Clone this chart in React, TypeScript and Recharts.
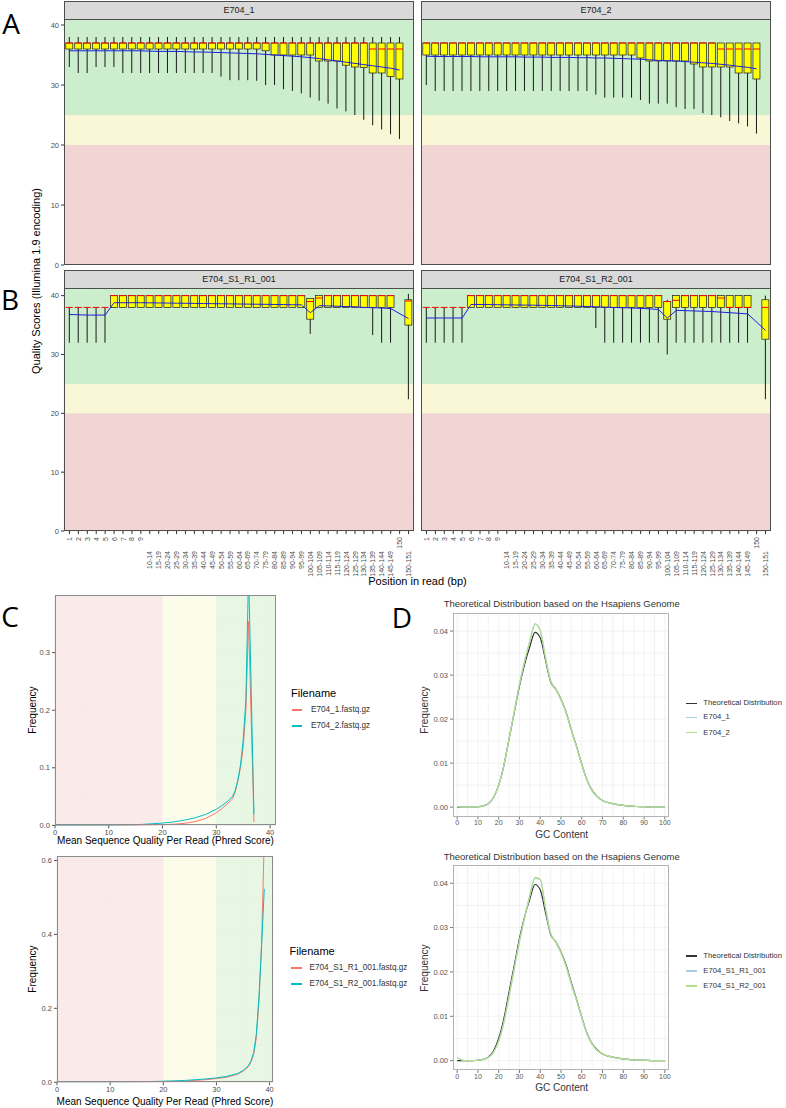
import React from 'react';
import { ComposedChart, LineChart, Line, Bar, XAxis, YAxis, CartesianGrid, ReferenceArea } from 'recharts';

const FONT = '"Liberation Sans", Arial, Helvetica, sans-serif';

// ---------------- Panels A / B : per-position quality boxplots ----------------
const POSITIONS = ['1','2','3','4','5','6','7','8','9','10-14','15-19','20-24','25-29','30-34','35-39','40-44','45-49','50-54','55-59','60-64','65-69','70-74','75-79','80-84','85-89','90-94','95-99','100-104','105-109','110-114','115-119','120-124','125-129','130-134','135-139','140-144','145-149','150','150-151'];

const E704_1_LOW = [33,32,32,33,33,33,32,32,32,32,32,32,32,32,32,32,32,31.4,30.8,30.8,30.8,30.7,30,30,29.3,29,28.6,27.9,27.4,26.9,26.1,25.6,25,24.2,23.3,22.6,21.8,21,null];
const E704_1_Q1 = [36,36,36,36,36,36,36,36,36,36,36,36,36,36,36,36,36,36,36,36,36,36,35.7,35,35,35,35,35,34,34,34,33.3,33,32.9,32,32,31.4,31,null];
const E704_1_MED = [37,37,37,37,37,37,37,37,37,37,37,37,37,37,37,37,37,37,37,37,37,37,37,37,37,37,37,37,37,37,37,37,37,37,36,36,36,36,null];
const E704_1_Q3 = [37,37,37,37,37,37,37,37,37,37,37,37,37,37,37,37,37,37,37,37,37,37,37,37,37,37,37,37,37,37,37,37,37,37,37,37,37,37,null];
const E704_1_HIGH = [38,38,38,38,38,38,38,38,38,38,38,38,38,38,38,38,38,38,38,38,38,38,38,38,38,38,38,38,38,38,38,38,38,38,38,38,38,38,null];
const E704_1_MEAN = [35.7,35.7,35.7,35.7,35.7,35.7,35.7,35.7,35.7,35.65,35.6,35.6,35.6,35.55,35.5,35.5,35.45,35.4,35.35,35.3,35.25,35.2,35.1,35.0,34.9,34.8,34.7,34.55,34.4,34.2,34.0,33.8,33.6,33.4,33.2,33.0,32.8,32.5,null];

const E704_2_LOW = [30,29,29,29,29,29,29,29,29,29,29,29,29,29,29,29,29,29,29,28.4,27.9,27.9,27.9,27.9,27.5,26.9,26.9,26.9,26.3,26,26,25.3,25,24.6,24,23.6,23.1,21.9,null];
const E704_2_Q1 = [35,35,35,35,35,35,35,35,35,35,35,35,35,35,35,35,35,35,35,35,35,35,35,35,34.5,34,34,34,34,34,33.5,33,33,33,33,32,32,31,null];
const E704_2_MED = [37,37,37,37,37,37,37,37,37,37,37,37,37,37,37,37,37,37,37,37,37,37,37,37,37,37,37,37,37,37,37,37,37,36,36,36,36,36,null];
const E704_2_Q3 = [37,37,37,37,37,37,37,37,37,37,37,37,37,37,37,37,37,37,37,37,37,37,37,37,37,37,37,37,37,37,37,37,37,37,37,37,37,37,null];
const E704_2_HIGH = [37,37,37,37,37,37,37,37,37,37,37,37,37,37,37,37,37,37,37,37,37,37,37,37,37,37,37,37,37,37,37,37,37,37,37,37,37,37,null];
const E704_2_MEAN = [34.8,34.75,34.75,34.75,34.75,34.75,34.7,34.7,34.7,34.7,34.7,34.65,34.65,34.65,34.6,34.6,34.6,34.55,34.55,34.5,34.5,34.45,34.4,34.35,34.3,34.2,34.1,34.05,34.0,33.9,33.8,33.7,33.6,33.45,33.3,33.1,32.95,32.7,null];

const R1_LOW = [32,32,32,32,32,38,38,38,38,38,38,38,38,38,38,38,38,38,38,38,38,38,38,38,38,38,38,33.5,38,38,38,38,38,38,33.3,32,32,null,22.4];
const R1_Q1 = [38,38,38,38,38,38,38,38,38,38,38,38,38,38,38,38,38,38,38,38,38,38,38,38,38,38,38,36,38,38,38,38,38,38,38,38,38,null,35];
const R1_MED = [38,38,38,38,38,40,40,40,40,40,40,40,40,40,40,40,40,40,40,40,40,40,40,40,40,40,40,39,39.6,40,40,40,40,40,40,40,40,null,39.1];
const R1_Q3 = [38,38,38,38,38,40,40,40,40,40,40,40,40,40,40,40,40,40,40,40,40,40,40,40,40,40,40,39.5,40,40,40,40,40,40,40,40,40,null,39.3];
const R1_HIGH = [38,38,38,38,38,40,40,40,40,40,40,40,40,40,40,40,40,40,40,40,40,40,40,40,40,40,40,39.5,40,40,40,40,40,40,40,40,40,null,40.3];
const R1_MEAN = [36.8,36.75,36.7,36.7,36.7,38.8,38.8,38.8,38.8,38.78,38.76,38.74,38.72,38.7,38.68,38.66,38.64,38.62,38.6,38.58,38.56,38.54,38.52,38.5,38.48,38.46,38.44,37.1,38.3,38.25,38.2,38.15,38.1,38.0,37.95,37.9,37.8,null,36.1];

const R2_LOW = [32,32,32,32,32,38,38,38,38,38,38,38,38,38,38,38,38,38,38,34.5,32,32,32,32,32,32,32,30,32,32,32,32,32,32,32,32,32,null,22.4];
const R2_Q1 = [38,38,38,38,38,38,38,38,38,38,38,38,38,38,38,38,38,38,38,38,38,38,38,38,38,38,38,36,38,38,38,38,38,38,38,38,38,null,32.6];
const R2_MED = [38,38,38,38,38,40,40,40,40,40,40,40,40,40,40,40,40,40,40,40,40,40,40,40,40,40,40,39,39.2,40,40,40,40,39.6,38,38,38,null,38];
const R2_Q3 = [38,38,38,38,38,40,40,40,40,40,40,40,40,40,40,40,40,40,40,40,40,40,40,40,40,40,40,39,40,40,40,40,40,40,40,40,40,null,39.3];
const R2_HIGH = [38,38,38,38,38,40,40,40,40,40,40,40,40,40,40,40,40,40,40,40,40,40,40,40,40,40,40,39.3,40,40,40,40,40,40,40,40,40,null,40];
const R2_MEAN = [36.2,36.2,36.2,36.2,36.2,38.5,38.5,38.48,38.46,38.44,38.42,38.4,38.38,38.35,38.32,38.28,38.24,38.2,38.15,38.1,38.05,38.0,37.95,37.9,37.85,37.75,37.65,36.2,37.5,37.45,37.4,37.35,37.3,37.2,37.1,37.0,36.9,null,34.1];

const QUAL_TICKS = [0, 10, 20, 30, 40];
const QUAL_GRID = [0, 5, 10, 15, 20, 25, 30, 35, 40];

// ---------------- Panel C : mean sequence quality per read ----------------
const C1_Q = [0,10,15,20,22,24,26,28,30,31,32,33,33.5,34,34.5,35,35.5,36,37];
const C1_E704_1 = [0,0,0.0003,0.0012,0.002,0.0035,0.0065,0.012,0.022,0.029,0.037,0.046,0.058,0.077,0.1,0.136,0.2,0.354,0.006];
const C1_E704_2 = [0,0.0003,0.001,0.004,0.006,0.009,0.013,0.019,0.028,0.034,0.041,0.05,0.06,0.078,0.105,0.148,0.218,0.44,0.02];

const C2_Q = [0,10,15,20,22,24,26,28,30,32,34,35,36,36.5,37,37.5,38,38.5,39];
const C2_R1 = [0,0,0.0003,0.001,0.002,0.003,0.005,0.007,0.01,0.014,0.022,0.03,0.042,0.055,0.075,0.12,0.22,0.38,0.66];
const C2_R2 = [0,0.0005,0.001,0.003,0.004,0.005,0.007,0.009,0.012,0.016,0.024,0.032,0.045,0.058,0.08,0.13,0.23,0.37,0.523];

// ---------------- Panel D : GC content ----------------
const GC = [0,2.5,5,7.5,10,12.5,15,17.5,20,22.5,25,27.5,30,32.5,35,37.5,40,42.5,45,47.5,50,52.5,55,57.5,60,62.5,65,67.5,70,75,80,85,90,95,100];
const GC_THEORETICAL = [0,0,0,0,0.0001,0.0003,0.0008,0.0022,0.005,0.0095,0.0155,0.0215,0.0275,0.0325,0.0365,0.0397,0.0385,0.0335,0.0285,0.0268,0.0245,0.0215,0.0175,0.0138,0.0098,0.0062,0.0038,0.0024,0.0015,0.0008,0.0004,0.0002,0.0001,0,0];
const GC_E704_1 = [0.0001,0,0,0,0.0001,0.0003,0.0008,0.0022,0.005,0.0095,0.0155,0.0217,0.0279,0.0332,0.0376,0.0415,0.0401,0.0341,0.0287,0.0268,0.0244,0.0214,0.0174,0.0137,0.0097,0.0061,0.0037,0.0023,0.0015,0.0008,0.0004,0.0002,0.0001,0,0];
const GC_E704_2 = [0.0001,0,0,0,0.0001,0.0003,0.0008,0.0022,0.005,0.0095,0.0155,0.0218,0.028,0.0333,0.0378,0.0417,0.0402,0.0342,0.0287,0.0268,0.0244,0.0214,0.0174,0.0137,0.0097,0.0061,0.0037,0.0023,0.0015,0.0008,0.0004,0.0002,0.0001,0,0];
const GC_R1 = [0.0008,0.0001,0,0,0.0001,0.0003,0.0007,0.0019,0.0044,0.0086,0.0145,0.0207,0.0268,0.0322,0.0372,0.0411,0.0408,0.0345,0.0287,0.0267,0.0243,0.0212,0.0172,0.0136,0.0097,0.0061,0.0037,0.0023,0.0015,0.0008,0.0004,0.0002,0.0001,0,0];
const GC_R2 = [0.0008,0.0001,0,0,0.0001,0.0003,0.0007,0.0019,0.0044,0.0087,0.0146,0.0208,0.0269,0.0323,0.0373,0.0413,0.0409,0.0346,0.0288,0.0267,0.0243,0.0212,0.0172,0.0136,0.0097,0.0061,0.0037,0.0023,0.0015,0.0008,0.0004,0.0002,0.0001,0,0];

// ---------------- helpers ----------------
type Num = number | null;

function buildBoxRows(low: Num[], q1: Num[], med: Num[], q3: Num[], high: Num[], mean: Num[]) {
  return POSITIONS.map((pos, i) => ({
    pos,
    range: low[i] == null ? null : [low[i], high[i]],
    low: low[i], q1: q1[i], med: med[i], q3: q3[i], high: high[i],
    mean: mean[i],
  }));
}

const BoxShape = (props: any) => {
  const { x, y, width, height, payload } = props;
  if (!payload || payload.low == null || !isFinite(y)) return <g />;
  const top = Math.min(y, y + height);
  const bot = Math.max(y, y + height);
  const span = payload.high - payload.low;
  const py = (v: number) => (span === 0 ? bot : bot - ((bot - top) * (v - payload.low)) / span);
  const cx = x + width / 2;
  const yQ1 = py(payload.q1);
  const yQ3 = py(payload.q3);
  const yMed = py(payload.med);
  return (
    <g>
      <line x1={cx} x2={cx} y1={py(payload.high)} y2={yQ3} stroke="#1a1a1a" strokeWidth={1} />
      <line x1={cx} x2={cx} y1={yQ1} y2={py(payload.low)} stroke="#1a1a1a" strokeWidth={1} />
      <rect x={x} y={yQ3} width={width} height={Math.max(0, yQ1 - yQ3)} fill="#ffff00" stroke="#1a1a1a" strokeWidth={0.7} />
      <line x1={x} x2={x + width} y1={yMed} y2={yMed} stroke="#ff0000" strokeWidth={1} />
    </g>
  );
};

const PosTick = (props: any) => {
  const { x, y, payload } = props;
  const label = String(payload.value);
  const off = label.indexOf('-') >= 0 ? 15 : 1;
  return (
    <text transform={`translate(${x},${y + off}) rotate(-90)`} textAnchor="end" dominantBaseline="central" fontSize={7} fill="#4d4d4d" fontFamily={FONT}>
      {label}
    </text>
  );
};

const QualTick = (props: any) => {
  const { x, y, payload } = props;
  return (
    <text x={x} y={y} textAnchor="end" dominantBaseline="central" fontSize={7.5} fill="#4d4d4d" fontFamily={FONT}>
      {String(payload.value)}
    </text>
  );
};

const Txt = ({ x, y, size, children, color = '#000', rotate = 0, anchor = 'middle', family = FONT }: any) => (
  <div
    style={{
      position: 'absolute', left: x, top: y,
      transform: `translate(${anchor === 'start' ? '0' : '-50%'}, -50%) rotate(${rotate}deg)`,
      fontSize: size, color, fontFamily: family, whiteSpace: 'nowrap', lineHeight: 1,
    }}
  >
    {children}
  </div>
);

const Frame = ({ x, y, w, h, color }: any) => (
  <div style={{ position: 'absolute', left: x, top: y, width: w, height: h, border: `1px solid ${color}`, boxSizing: 'border-box', pointerEvents: 'none' }} />
);

const Strip = ({ x, y, w, h, label }: any) => (
  <div style={{ position: 'absolute', left: x, top: y, width: w, height: h, background: '#d9d9d9', border: '1px solid #4d4d4d', boxSizing: 'border-box', fontFamily: FONT, fontSize: 9, color: '#1a1a1a', display: 'flex', alignItems: 'center', justifyContent: 'center' }}>
    {label}
  </div>
);

const LegendLine = ({ x, y, w, color, width = 1.4 }: any) => (
  <div style={{ position: 'absolute', left: x, top: y - width / 2, width: w, height: width, background: color }} />
);

// Quality axis drawn on its own chart; its domain reaches below 0 so the 0 tick sits inside the axis range
function QualAxis({ rows, right, topY, pxPerUnit, yMax }: any) {
  const yw = 26;
  const yMin = -5;
  const h = (yMax - yMin) * pxPerUnit;
  return (
    <div style={{ position: 'absolute', left: right - yw, top: topY, zIndex: 5 }}>
      <ComposedChart width={yw} height={h} data={rows} margin={{ top: 0, right: 0, bottom: 0, left: 0 }}>
        <XAxis dataKey="pos" hide />
        <YAxis
          type="number" domain={[yMin, yMax]} ticks={QUAL_TICKS} interval={0} allowDataOverflow width={yw}
          axisLine={false} tickLine={{ stroke: '#333333' }} tickSize={3} tickMargin={2}
          tick={(p: any) => <QualTick {...p} />}
        />
      </ComposedChart>
    </div>
  );
}

function BoxPanel({ rows, px, py, pw, ph, yMax, showY, showX }: any) {
  const yw = showY ? 26 : 0;
  const xh = showX ? 48 : 0;
  return (
    <div style={{ position: 'absolute', left: px - yw, top: py }}>
      <ComposedChart width={pw + yw} height={ph + xh} data={rows} margin={{ top: 0, right: 0, bottom: 0, left: 0 }} barCategoryGap="9%">
        <CartesianGrid stroke="#e6e6e6" strokeWidth={0.7} horizontalValues={QUAL_GRID} />
        <ReferenceArea y1={0} y2={20} fill="#f0cfcf" fillOpacity={0.9} stroke="none" ifOverflow="hidden" />
        <ReferenceArea y1={20} y2={25} fill="#f8f6d0" fillOpacity={0.9} stroke="none" ifOverflow="hidden" />
        <ReferenceArea y1={25} y2={yMax} fill="#c6ecc6" fillOpacity={0.9} stroke="none" ifOverflow="hidden" />
        {showX ? (
          <XAxis
            dataKey="pos" interval={0} padding={{ left: 1, right: 1 }} height={xh} axisLine={false}
            tick={(p: any) => <PosTick {...p} />}
            tickLine={{ stroke: '#333333' }} tickSize={3} tickMargin={2}
          />
        ) : (
          <XAxis dataKey="pos" interval={0} padding={{ left: 1, right: 1 }} hide />
        )}
        <YAxis
          type="number" domain={[0, yMax]} ticks={QUAL_TICKS} interval={0} allowDataOverflow hide={!showY} width={yw}
          axisLine={false} tickLine={{ stroke: '#333333' }} tickSize={3} tickMargin={2}
          tick={(p: any) => <QualTick {...p} />}
        />
        <Bar dataKey="range" shape={BoxShape} isAnimationActive={false} />
        <Line dataKey="mean" stroke="#1e1ee0" strokeWidth={1} dot={false} connectNulls isAnimationActive={false} />
      </ComposedChart>
    </div>
  );
}

function QualDist({ data, px, py, pw, ph, xMax, yMax, yTicks, hGrid }: any) {
  const yw = 30;
  const xh = 14;
  const mr = 6;
  return (
    <div style={{ position: 'absolute', left: px - yw, top: py }}>
      <LineChart width={pw + yw + mr} height={ph + xh} data={data} margin={{ top: 0, right: mr, bottom: 0, left: 0 }}>
        <CartesianGrid stroke="#e2e2e2" strokeWidth={0.7} verticalValues={[0, 5, 10, 15, 20, 25, 30, 35, 40]} horizontalValues={hGrid} />
        <ReferenceArea x1={0} x2={20} fill="#f9e6e6" fillOpacity={0.85} stroke="none" ifOverflow="hidden" />
        <ReferenceArea x1={20} x2={30} fill="#fcfce6" fillOpacity={0.85} stroke="none" ifOverflow="hidden" />
        <ReferenceArea x1={30} x2={xMax} fill="#e3f6df" fillOpacity={0.85} stroke="none" ifOverflow="hidden" />
        <XAxis
          type="number" dataKey="q" domain={[0, xMax]} ticks={[0, 10, 20, 30, 40]} interval={0} allowDataOverflow height={xh}
          axisLine={false} tickLine={{ stroke: '#555555' }} tickSize={3} tickMargin={1}
          tick={{ fontSize: 7.5, fill: '#4d4d4d', fontFamily: FONT }}
        />
        <YAxis
          type="number" domain={[0, yMax]} ticks={yTicks} interval={0} allowDataOverflow width={yw}
          tickFormatter={(v: number) => v.toFixed(1)}
          axisLine={false} tickLine={{ stroke: '#555555' }} tickSize={3} tickMargin={2}
          tick={{ fontSize: 7.5, fill: '#4d4d4d', fontFamily: FONT }}
        />
        <Line type="linear" dataKey="a" stroke="#F8766D" strokeWidth={1} dot={false} isAnimationActive={false} />
        <Line type="linear" dataKey="b" stroke="#00BFC4" strokeWidth={1} dot={false} isAnimationActive={false} />
      </LineChart>
    </div>
  );
}

function GcDist({ data, px, py, pw, ph }: any) {
  const yw = 30;
  const xh = 14;
  const mr = 8;
  const vGrid = [0, 5, 10, 15, 20, 25, 30, 35, 40, 45, 50, 55, 60, 65, 70, 75, 80, 85, 90, 95, 100];
  const hGrid = [0, 0.005, 0.01, 0.015, 0.02, 0.025, 0.03, 0.035, 0.04];
  return (
    <div style={{ position: 'absolute', left: px - yw, top: py }}>
      <LineChart width={pw + yw + mr} height={ph + xh} data={data} margin={{ top: 0, right: mr, bottom: 0, left: 0 }}>
        <CartesianGrid stroke="#ececec" strokeWidth={0.7} verticalValues={vGrid} horizontalValues={hGrid} />
        <XAxis
          type="number" dataKey="gc" domain={[-2, 102]} ticks={[0, 10, 20, 30, 40, 50, 60, 70, 80, 90, 100]} interval={0} allowDataOverflow height={xh}
          axisLine={false} tickLine={{ stroke: '#777777' }} tickSize={3} tickMargin={1}
          tick={{ fontSize: 7, fill: '#555555', fontFamily: FONT }}
        />
        <YAxis
          type="number" domain={[-0.0021, 0.0441]} ticks={[0, 0.01, 0.02, 0.03, 0.04]} interval={0} allowDataOverflow width={yw}
          tickFormatter={(v: number) => v.toFixed(2)}
          axisLine={false} tickLine={{ stroke: '#777777' }} tickSize={3} tickMargin={2}
          tick={{ fontSize: 7.5, fill: '#555555', fontFamily: FONT }}
        />
        <Line type="monotone" dataKey="theo" stroke="#333333" strokeWidth={1.2} dot={false} isAnimationActive={false} />
        <Line type="monotone" dataKey="s1" stroke="#a6cee3" strokeWidth={1.2} dot={false} isAnimationActive={false} />
        <Line type="monotone" dataKey="s2" stroke="#b2df8a" strokeWidth={1.2} dot={false} isAnimationActive={false} />
      </LineChart>
    </div>
  );
}

// ---------------- assembled figure ----------------
export default function App() {
  const rowsE1 = buildBoxRows(E704_1_LOW, E704_1_Q1, E704_1_MED, E704_1_Q3, E704_1_HIGH, E704_1_MEAN);
  const rowsE2 = buildBoxRows(E704_2_LOW, E704_2_Q1, E704_2_MED, E704_2_Q3, E704_2_HIGH, E704_2_MEAN);
  const rowsR1 = buildBoxRows(R1_LOW, R1_Q1, R1_MED, R1_Q3, R1_HIGH, R1_MEAN);
  const rowsR2 = buildBoxRows(R2_LOW, R2_Q1, R2_MED, R2_Q3, R2_HIGH, R2_MEAN);

  const c1 = C1_Q.map((q, i) => ({ q, a: C1_E704_1[i], b: C1_E704_2[i] }));
  const c2 = C2_Q.map((q, i) => ({ q, a: C2_R1[i], b: C2_R2[i] }));
  const d1 = GC.map((gc, i) => ({ gc, theo: GC_THEORETICAL[i], s1: GC_E704_1[i], s2: GC_E704_2[i] }));
  const d2 = GC.map((gc, i) => ({ gc, theo: GC_THEORETICAL[i], s1: GC_R1[i], s2: GC_R2[i] }));

  const L = 64, R = 421, W = 350;
  const aTop = 18.7, aH = 246;
  const bTop = 288, bH = 243;
  const LETTER = '"Open Sans", "DejaVu Sans", sans-serif';

  return (
    <div style={{ position: 'absolute', left: 0, top: 0, width: 786, height: 1108, background: '#ffffff', overflow: 'hidden', fontFamily: FONT }}>
      {/* A / B boxplots */}
      <BoxPanel rows={rowsE1} px={L} py={aTop} pw={W} ph={aH} yMax={41} showY={false} showX={false} />
      <BoxPanel rows={rowsE2} px={R} py={aTop} pw={W} ph={aH} yMax={41} showY={false} showX={false} />
      <BoxPanel rows={rowsR1} px={L} py={bTop} pw={W} ph={bH} yMax={41.3} showY showX />
      <BoxPanel rows={rowsR2} px={R} py={bTop} pw={W} ph={bH} yMax={41.3} showY={false} showX />
      <Frame x={L} y={aTop} w={W} h={aH} color="#4d4d4d" />
      <Frame x={R} y={aTop} w={W} h={aH} color="#4d4d4d" />
      <Frame x={L} y={bTop} w={W} h={bH} color="#4d4d4d" />
      <Frame x={R} y={bTop} w={W} h={bH} color="#4d4d4d" />
      <Strip x={L} y={1} w={W} h={18.5} label="E704_1" />
      <Strip x={R} y={1} w={W} h={18.5} label="E704_2" />
      <Strip x={L} y={270} w={W} h={18.5} label="E704_S1_R1_001" />
      <Strip x={R} y={270} w={W} h={18.5} label="E704_S1_R2_001" />
      <Txt x={36} y={281} size={11} rotate={-90}>Quality Scores (Illumina 1.9 encoding)</Txt>
      <Txt x={417.5} y={581} size={11}>Position in read (bp)</Txt>
      <QualAxis rows={rowsE1} right={L} topY={aTop} pxPerUnit={aH / 41} yMax={41} />

      {/* Panel letters */}
      <Txt x={11} y={23} size={28} family={LETTER}>A</Txt>
      <Txt x={10} y={299} size={28} family={LETTER}>B</Txt>
      <Txt x={10} y={616} size={28} family={LETTER}>C</Txt>
      <Txt x={402} y={617} size={28} family={LETTER}>D</Txt>

      {/* C: quality distribution */}
      <QualDist data={c1} px={55} py={594.6} pw={221} ph={230.4} xMax={41.1} yMax={0.4}
        yTicks={[0, 0.1, 0.2, 0.3]} hGrid={[0, 0.05, 0.1, 0.15, 0.2, 0.25, 0.3, 0.35]} />
      <Frame x={55} y={594.6} w={221} h={230.4} color="#8c8c8c" />
      <Txt x={33} y={710} size={10} rotate={-90}>Frequency</Txt>
      <Txt x={165.5} y={841} size={10}>Mean Sequence Quality Per Read (Phred Score)</Txt>
      <Txt x={291} y={693} size={11} anchor="start">Filename</Txt>
      <LegendLine x={292} y={710} w={10} color="#F8766D" />
      <LegendLine x={292} y={726} w={10} color="#00BFC4" />
      <Txt x={311} y={710} size={8.2} anchor="start" color="#333">E704_1.fastq.gz</Txt>
      <Txt x={311} y={726} size={8.2} anchor="start" color="#333">E704_2.fastq.gz</Txt>

      <QualDist data={c2} px={56.7} py={855.7} pw={216.6} ph={226.3} xMax={40.75} yMax={0.612}
        yTicks={[0, 0.2, 0.4, 0.6]} hGrid={[0, 0.1, 0.2, 0.3, 0.4, 0.5, 0.6]} />
      <Frame x={56.7} y={855.7} w={216.6} h={226.3} color="#8c8c8c" />
      <Txt x={33} y={968.5} size={10} rotate={-90}>Frequency</Txt>
      <Txt x={165} y={1101.5} size={10}>Mean Sequence Quality Per Read (Phred Score)</Txt>
      <Txt x={289.5} y={951} size={11} anchor="start">Filename</Txt>
      <LegendLine x={291} y={968} w={11} color="#F8766D" />
      <LegendLine x={291} y={984} w={11} color="#00BFC4" />
      <Txt x={309.5} y={968} size={8.2} anchor="start" color="#333">E704_S1_R1_001.fastq.gz</Txt>
      <Txt x={309.5} y={984} size={8.2} anchor="start" color="#333">E704_S1_R2_001.fastq.gz</Txt>

      {/* D: GC content */}
      <Txt x={561.7} y={604} size={9.5} color="#333">Theoretical Distribution based on the Hsapiens Genome</Txt>
      <GcDist data={d1} px={453.3} py={613.3} pw={216} ph={203.4} />
      <Frame x={453.3} y={613.3} w={216} h={203.4} color="#b3b3b3" />
      <Txt x={425} y={710} size={10} rotate={-90} color="#333">Frequency</Txt>
      <Txt x={561.7} y={835} size={10} color="#333">GC Content</Txt>
      <LegendLine x={686} y={703.3} w={11} color="#333333" />
      <LegendLine x={686} y={717.3} w={11} color="#a6cee3" />
      <LegendLine x={686} y={732.7} w={11} color="#b2df8a" />
      <Txt x={703.3} y={703.3} size={7.7} anchor="start" color="#333">Theoretical Distribution</Txt>
      <Txt x={703.3} y={717.3} size={7.7} anchor="start" color="#333">E704_1</Txt>
      <Txt x={703.3} y={732.7} size={7.7} anchor="start" color="#333">E704_2</Txt>

      <Txt x={561.7} y={856.7} size={9.5} color="#333">Theoretical Distribution based on the Hsapiens Genome</Txt>
      <GcDist data={d2} px={453.3} py={865} pw={216} ph={205} />
      <Frame x={453.3} y={865} w={216} h={205} color="#b3b3b3" />
      <Txt x={425} y={968} size={10} rotate={-90} color="#333">Frequency</Txt>
      <Txt x={561.7} y={1088.3} size={10} color="#333">GC Content</Txt>
      <LegendLine x={686} y={956} w={11} color="#333333" />
      <LegendLine x={686} y={971} w={11} color="#a6cee3" />
      <LegendLine x={686} y={986} w={11} color="#b2df8a" />
      <Txt x={703.3} y={956} size={7.7} anchor="start" color="#333">Theoretical Distribution</Txt>
      <Txt x={703.3} y={971} size={7.7} anchor="start" color="#333">E704_S1_R1_001</Txt>
      <Txt x={703.3} y={986} size={7.7} anchor="start" color="#333">E704_S1_R2_001</Txt>
    </div>
  );
}
